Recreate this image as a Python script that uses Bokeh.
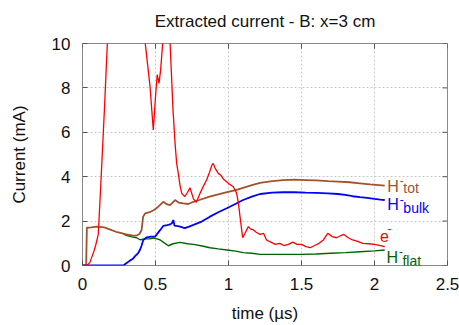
import math
from bokeh.plotting import figure
from bokeh.models import FixedTicker, NumeralTickFormatter, Range1d, ColumnDataSource
from bokeh.core.properties import value
from bokeh.embed import file_html
from bokeh.resources import INLINE

# ---------------- data ----------------
title_text = "Extracted current - B: x=3 cm"
x_ticks = [0, 0.5, 1, 1.5, 2, 2.5]
y_ticks = [0, 2, 4, 6, 8, 10]

e_x = [0, 0.03, 0.05, 0.075, 0.09, 0.108, 0.125, 0.15, 0.17, 0.2, 0.3, 0.4, 0.43, 0.44,
       0.462, 0.485, 0.5, 0.512, 0.524, 0.535, 0.549, 0.575, 0.6, 0.62, 0.634, 0.645,
       0.656, 0.668, 0.68, 0.70, 0.72, 0.736, 0.76, 0.78, 0.805, 0.83, 0.85, 0.87, 0.885,
       0.895, 0.907, 0.93, 0.95, 0.964, 0.999, 1.033, 1.056, 1.068, 1.079, 1.097, 1.113,
       1.136, 1.15, 1.17, 1.19, 1.216, 1.24, 1.26, 1.29, 1.32, 1.35, 1.38, 1.41, 1.44,
       1.47, 1.5, 1.53, 1.56, 1.59, 1.62, 1.65, 1.68, 1.71, 1.74, 1.77, 1.79, 1.82, 1.85,
       1.88, 1.92, 1.96, 2.0, 2.04, 2.07]
e_y = [0, 0, 0.13, 0.58, 0.9, 1.4, 3.6, 7.0, 10.0, 14.0, 18.0, 12.0, 10.0, 9.4,
       8.1, 6.1, 7.6, 8.6, 8.2, 8.8, 10.0, 13.0, 10.0, 7.0, 5.5, 4.6,
       4.15, 3.6, 3.25, 3.1, 3.3, 3.5, 3.0, 2.85, 3.25, 3.6, 3.85, 4.2, 4.5,
       4.6, 4.4, 4.15, 4.05, 3.9, 3.7, 3.55, 3.25, 2.8, 2.2, 1.25, 1.45,
       1.75, 1.65, 1.6, 1.5, 1.4, 1.45, 1.15, 1.05, 0.95, 1.0, 0.9, 0.95, 1.05,
       0.95, 0.95, 0.85, 0.8, 0.9, 1.0, 1.15, 1.45, 1.3, 1.25, 1.35, 1.4, 1.25, 1.15,
       1.1, 1.0, 0.98, 0.95, 0.9, 0.85]

tot_x = [0, 0.025, 0.03, 0.06, 0.1, 0.15, 0.19, 0.23, 0.26, 0.3, 0.34, 0.37, 0.39, 0.405,
         0.415, 0.43, 0.46, 0.49, 0.51, 0.553, 0.58, 0.6, 0.634, 0.66, 0.69, 0.725, 0.76,
         0.8, 0.87, 0.93, 0.99, 1.05, 1.1, 1.16, 1.216, 1.3, 1.375, 1.45, 1.53, 1.6, 1.68,
         1.75, 1.83, 1.9, 1.97, 2.03, 2.07]
tot_y = [0, 0, 1.7, 1.72, 1.75, 1.72, 1.62, 1.52, 1.47, 1.4, 1.36, 1.35, 1.42, 1.6,
         2.2, 2.35, 2.4, 2.5, 2.6, 2.87, 2.75, 2.72, 2.95, 2.83, 2.8, 2.77, 2.87,
         2.95, 3.1, 3.2, 3.3, 3.4, 3.5, 3.62, 3.72, 3.8, 3.85, 3.87, 3.85, 3.83, 3.8,
         3.78, 3.75, 3.7, 3.65, 3.62, 3.6]

bulk_x = [0, 0.28, 0.3, 0.325, 0.345, 0.36, 0.38, 0.394, 0.405, 0.416, 0.44, 0.47, 0.497,
          0.53, 0.553, 0.58, 0.6, 0.612, 0.622, 0.63, 0.645, 0.668, 0.70, 0.73, 0.76, 0.816,
          0.873, 0.93, 0.988, 1.05, 1.1, 1.16, 1.216, 1.3, 1.375, 1.45, 1.53, 1.6, 1.68,
          1.75, 1.8, 1.85, 1.9, 1.95, 2.0, 2.04, 2.07]
bulk_y = [0, 0, 0.1, 0.22, 0.3, 0.42, 0.55, 0.71, 0.9, 1.15, 1.27, 1.3, 1.3,
          1.58, 1.78, 1.82, 1.85, 1.9, 2.05, 1.8, 1.78, 1.75, 1.68, 1.75, 1.83, 1.98,
          2.2, 2.4, 2.58, 2.78, 2.95, 3.1, 3.22, 3.28, 3.3, 3.3, 3.28, 3.27, 3.25,
          3.22, 3.18, 3.12, 3.08, 3.05, 3.0, 2.97, 2.95]

flat_x = [0.28, 0.3, 0.33, 0.37, 0.394, 0.43, 0.46, 0.485, 0.51, 0.53, 0.56, 0.588, 0.62,
          0.668, 0.72, 0.76, 0.82, 0.873, 0.93, 0.99, 1.05, 1.1, 1.16, 1.216, 1.3, 1.4,
          1.5, 1.6, 1.7, 1.8, 1.9, 2.0, 2.07]
flat_y = [1.42, 1.36, 1.3, 1.25, 1.16, 1.2, 1.2, 1.24, 1.2, 1.16, 1.02, 0.89, 0.98,
          1.04, 0.98, 0.95, 0.88, 0.8, 0.75, 0.7, 0.65, 0.58, 0.55, 0.5, 0.5, 0.5,
          0.5, 0.52, 0.55, 0.58, 0.62, 0.66, 0.7]

# curve labels: main text, superscript, subscript, anchor (x, baseline y)
lab_main = ["H", "H", "e", "H"]
lab_sup = ["-", "-", "-", "-"]
lab_sub = ["tot", "bulk", "", "flat"]
lab_x = [2.088, 2.088, 2.038, 2.082]
lab_y = [3.56, 2.74, 1.32, 0.36]
lab_col = ["#a0522d", "#0000ff", "#ff0000", "#006400"]

FONT = "Liberation Sans"
X0, X1 = 0, 2.5
Y0, Y1 = 0, 10

p = figure(width=459, height=325, output_backend="svg", toolbar_location=None,
           x_range=Range1d(X0, X1), y_range=Range1d(Y0, Y1),
           min_border_left=82, min_border_right=12, min_border_top=42, min_border_bottom=59,
           title=title_text)
p.background_fill_color = "white"
p.border_fill_color = "white"
p.outline_line_color = "#8a8a8a"
p.outline_line_width = 1

p.title.text_font = FONT
p.title.text_font_size = "17px"
p.title.text_font_style = "normal"
p.title.text_color = "#111111"
p.title.align = "center"
p.title.vertical_align = "top"
p.title.standoff = 22

for ax in (p.xaxis[0], p.yaxis[0]):
    ax.major_label_text_font = FONT
    ax.major_label_text_font_size = "17px"
    ax.major_label_text_color = "#111111"
    ax.axis_label_text_font = FONT
    ax.axis_label_text_font_size = "17px"
    ax.axis_label_text_font_style = "normal"
    ax.axis_label_text_color = "#111111"
    ax.axis_line_color = None
    ax.major_tick_in = 5
    ax.major_tick_out = 0
    ax.major_tick_line_color = "#555555"
    ax.minor_tick_line_color = None

p.xaxis[0].ticker = FixedTicker(ticks=x_ticks)
p.yaxis[0].ticker = FixedTicker(ticks=y_ticks)
p.xaxis[0].formatter = NumeralTickFormatter(format="0.[0]")
p.yaxis[0].formatter = NumeralTickFormatter(format="0")
p.xaxis[0].axis_label = "time (µs)"
p.yaxis[0].axis_label = "Current (mA)"
p.xaxis[0].major_label_standoff = 12
p.xaxis[0].axis_label_standoff = 11
p.yaxis[0].major_label_standoff = 12
p.yaxis[0].axis_label_standoff = 20

p.xgrid.ticker = FixedTicker(ticks=x_ticks)
p.ygrid.ticker = FixedTicker(ticks=y_ticks)
for g in (p.xgrid[0], p.ygrid[0]):
    g.grid_line_color = "#c8c8c8"
    g.grid_line_dash = "2 2"
    g.grid_line_width = 1

# mirrored inward ticks on the top and right frame edges
p.ray(x=x_ticks, y=[Y1] * len(x_ticks), length=5, length_units="screen",
      angle=-math.pi / 2, line_color="#555555", line_width=1)
p.ray(x=[X1] * len(y_ticks), y=y_ticks, length=5, length_units="screen",
      angle=math.pi, line_color="#555555", line_width=1)

p.line(flat_x, flat_y, color="#006400", line_width=1.4)
p.line(tot_x, tot_y, color="#a0522d", line_width=1.8)
p.line(bulk_x, bulk_y, color="#0000ff", line_width=1.8)
p.line(e_x, e_y, color="#ff0000", line_width=1.3)

src = ColumnDataSource(dict(x=lab_x, y=lab_y, main=lab_main, sup=lab_sup, sub=lab_sub, col=lab_col,
                            supdx=[12.5, 12.5, 7.5, 12.5], supdy=[-5.6, -5.6, -7.6, -5.6],
                            subdy=[2, 3.3, 0, 3.5]))
p.text(x="x", y="y", text="main", source=src, text_color="col", text_font=value(FONT),
       text_font_size="16px", text_align="left", text_baseline="alphabetic")
p.text(x="x", y="y", text="sup", source=src, text_color="col", text_font=value(FONT),
       text_font_size="12px", text_align="left", text_baseline="alphabetic",
       x_offset="supdx", y_offset="supdy")
p.text(x="x", y="y", text="sub", source=src, text_color="col", text_font=value(FONT),
       text_font_size="14px", text_align="left", text_baseline="alphabetic",
       x_offset=16, y_offset="subdy")

open("out.html", "w").write(file_html(p, INLINE))
